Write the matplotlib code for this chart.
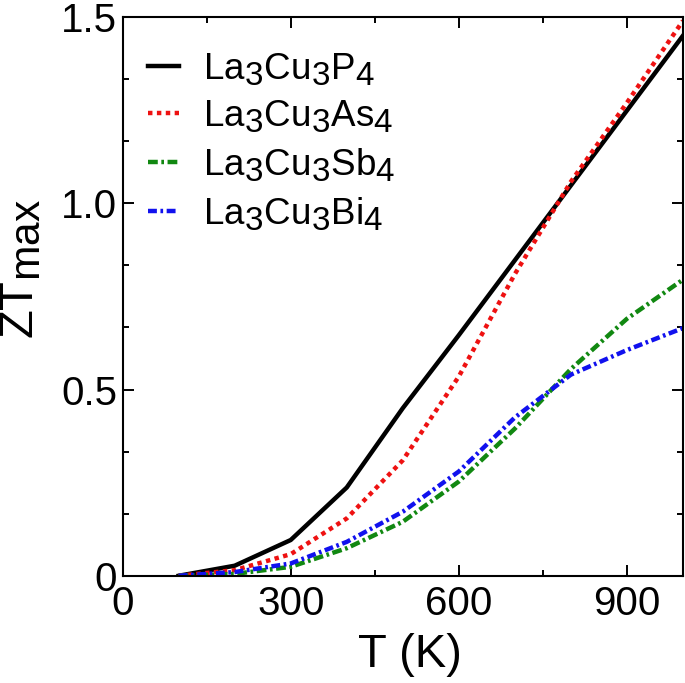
import numpy as np
import matplotlib
matplotlib.use('Agg')
import matplotlib.pyplot as plt
from matplotlib.ticker import MultipleLocator, AutoMinorLocator, FuncFormatter
import matplotlib._mathtext as mathtext_mod

# subscripts in the original are nearly full size, just lowered
mathtext_mod.SHRINK_FACTOR = 0.9

plt.rcParams['font.family'] = ['Liberation Sans', 'DejaVu Sans']
plt.rcParams['mathtext.fontset'] = 'custom'
plt.rcParams['mathtext.rm'] = 'Liberation Sans'
plt.rcParams['mathtext.default'] = 'regular'

# -----------------------------------------------------------------------------
# data
# -----------------------------------------------------------------------------
T = [100, 200, 300, 400, 500, 600, 700, 800, 900, 1000]
zt_P = [0, 0.027, 0.096, 0.237, 0.45, 0.646, 0.847, 1.048, 1.249, 1.45]
zt_As = [0, 0.015, 0.058, 0.154, 0.31, 0.535, 0.81, 1.058, 1.27, 1.49]
zt_Sb = [0, 0.005, 0.024, 0.074, 0.145, 0.253, 0.395, 0.555, 0.69, 0.795]
zt_Bi = [0, 0.010, 0.033, 0.091, 0.172, 0.28, 0.425, 0.54, 0.606, 0.665]

labels = [r'La$_3$Cu$_3$P$_4$', r'La$_3$Cu$_3$As$_4$',
          r'La$_3$Cu$_3$Sb$_4$', r'La$_3$Cu$_3$Bi$_4$']

fig = plt.figure(figsize=(6.85, 6.83), dpi=100)
ax = fig.add_axes([0.179, 0.157, 0.818, 0.818])

lw = 3.2
ax.plot(T, zt_P, '-', color='black', lw=lw, label=labels[0])
ax.plot(T, zt_As, color='#ee1111', lw=lw, dashes=(1, 1), label=labels[1])
ax.plot(T, zt_Sb, color='#118811', lw=lw, dashes=(2.2, 0.8, 0.6, 0.8), label=labels[2])
ax.plot(T, zt_Bi, color='#1111ee', lw=lw, dashes=(2.0, 0.8, 0.6, 0.8), label=labels[3])

ax.set_xlim(0, 1000)
ax.set_ylim(0, 1.5)
ax.xaxis.set_major_locator(MultipleLocator(300))
ax.xaxis.set_minor_locator(MultipleLocator(150))
ax.yaxis.set_major_locator(MultipleLocator(0.5))
ax.yaxis.set_minor_locator(AutoMinorLocator(3))
ax.yaxis.set_major_formatter(FuncFormatter(lambda v, p: '0' if v == 0 else f'{v:.1f}'))

ax.tick_params(which='both', direction='in', top=True, right=True, width=1.4)
ax.tick_params(which='major', length=8, labelsize=29)
ax.tick_params(which='minor', length=4.5)
ax.tick_params(axis='x', pad=7)
ax.tick_params(axis='y', pad=4)
for s in ax.spines.values():
    s.set_linewidth(1.5)

ax.set_xlabel('T (K)', fontsize=34)
ax.set_ylabel(r'ZT$_{max}$', fontsize=34)
ax.xaxis.set_label_coords(0.513, -0.103)
ax.yaxis.set_label_coords(-0.142, 0.549)

ax.legend(loc='upper left', bbox_to_anchor=(0.045, 0.94), frameon=False,
          fontsize=26.5, handlelength=0.85, handletextpad=0.66,
          labelspacing=0.32, borderpad=0, borderaxespad=0)

fig.savefig('out.png', dpi=100)
